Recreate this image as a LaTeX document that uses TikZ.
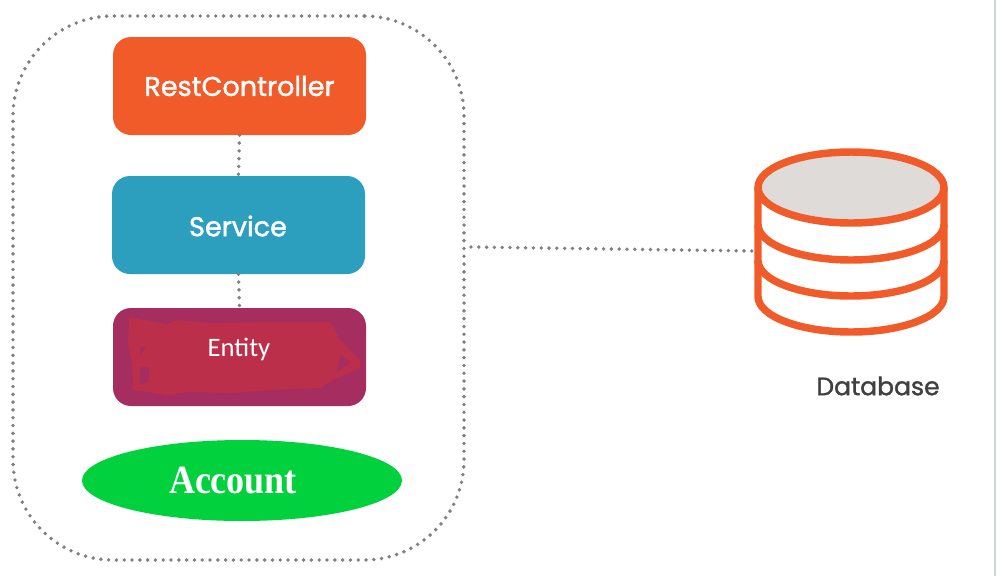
\documentclass[tikz,border=0pt]{standalone}
\usepackage{fontspec}
\usepackage{xcolor}
\usetikzlibrary{shapes.geometric}
\setmainfont{Poppins}[FakeBold=1.4]
\newfontfamily\entityfont{Carlito}
\newfontfamily\accountfont{Liberation Serif}[FakeStretch=0.9]
\definecolor{restcolor}{HTML}{F15A29}
\definecolor{servicecolor}{HTML}{2C9FBF}
\definecolor{entitycolor}{HTML}{A52D60}
\definecolor{scribblecolor}{HTML}{BC2F4A}
\definecolor{accountcolor}{HTML}{00D13C}
\definecolor{dotcolor}{HTML}{808080}
\definecolor{disccolor}{HTML}{DEDBD8}
\definecolor{edgecolor}{HTML}{CDD5E0}
\definecolor{labelcolor}{HTML}{404040}
\tikzset{
	layerbox/.style={rounded corners=13.5pt, minimum width=189.75pt, minimum height=73.5pt, inner sep=0pt},
	layertext/.style={text=white, font=\fontsize{20.3pt}{22pt}\selectfont},
	dotline/.style={draw=dotcolor, line width=2.9pt, line cap=round, dash pattern=on 0pt off 5.85pt},
	dbline/.style={draw=restcolor, line width=5.6pt}
}
\begin{document}
\begin{tikzpicture}[x=0.75pt, y=-0.75pt]
	\useasboundingbox (0,0) rectangle (1003,576);
	\draw[edgecolor, line width=0.9pt] (995,0) to (995,576);

	% left group
	\node[dotline, rounded corners=75pt, minimum width=338.25pt, minimum height=408pt, inner sep=0pt] (container) at (238.5,288) {};
	\node[layerbox, fill=restcolor] (rest) at (239.5,86) {};
	\node[layertext] (restlabel) at (239.5,86) {RestController};
	\node[layerbox, fill=servicecolor] (service) at (238.5,225) {};
	\node[layertext] (servicelabel) at (238,226) {Service};
	\node[layerbox, fill=entitycolor] (entity) at (239.5,357) {};
	\fill[scribblecolor] (129,318) to (145,320) to (167,324) to (177,320) to (210,323) to (270,322) to (330,322) to (340,340)
		to (360,360) to (360,368) to (333,380) to (320,388) to (270,390) to (233,393) to (190,392) to (167,395)
		to (133,390) to (132,363) to (128,343) -- cycle;
	\fill[entitycolor] (340,355) to (351,362) to (337,372) -- cycle;
	\fill[entitycolor] (140,347) to (146,347) to (140,355) -- cycle;
	\fill[entitycolor] (140,367) to (149,367) to (149,382) to (140,384) -- cycle;
	\node[text=white, font=\entityfont\fontsize{20pt}{22pt}\selectfont] (entitylabel) at (239,349) {Entity};
	\node[ellipse, fill=accountcolor, minimum width=240pt, minimum height=60.75pt, inner sep=0pt] (account) at (242,480.5) {};
	\node[text=white, font=\accountfont\bfseries\fontsize{30pt}{32pt}\selectfont] (accountlabel) at (233,481) {Account};

	\draw[dotline] (rest.south) to (service.north);
	\draw[dotline] (service.south) to (entity.north);

	% database
	\draw[dbline] (758,187.5) to (758,296.5) arc[start angle=180, end angle=0, x radius=93, y radius=35.5] to (944,187.5);
	\draw[dbline] (758,224.5) arc[start angle=180, end angle=0, x radius=93, y radius=35.5];
	\draw[dbline] (758,260.5) arc[start angle=180, end angle=0, x radius=93, y radius=35.5];
	\node[ellipse, dbline, fill=disccolor, minimum width=139.5pt, minimum height=53.25pt, inner sep=0pt, outer sep=0pt] (dbtop) at (851,187.5) {};
	\node[text=labelcolor, font=\fontsize{18.8pt}{20pt}\selectfont] (dblabel) at (878,386) {Database};

	\coordinate (groupout) at (471,247);
	\coordinate (dbin) at (752,251);
	\draw[dotline] (groupout) to (dbin);
\end{tikzpicture}
\end{document}
